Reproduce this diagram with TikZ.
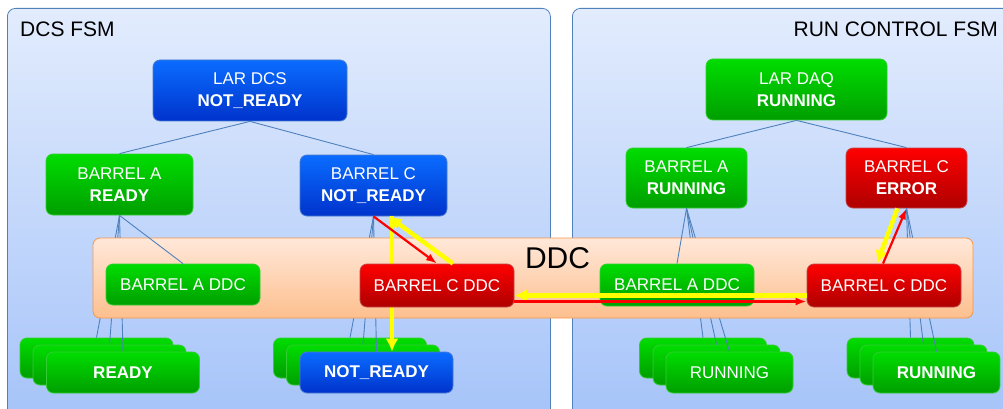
\documentclass[tikz,border=0pt]{standalone}
\usepackage{fontspec}
\setmainfont{Liberation Sans}
\usetikzlibrary{arrows.meta, positioning}

\definecolor{panelTop}{HTML}{E2ECFD}
\definecolor{panelBot}{HTML}{A5C3F9}
\definecolor{panelLine}{HTML}{4F81BD}
\definecolor{ddcTop}{HTML}{FFE8D9}
\definecolor{ddcBot}{HTML}{FDBF8E}
\definecolor{ddcLine}{HTML}{F79646}
\definecolor{blueTop}{HTML}{0A6CFF}
\definecolor{blueBot}{HTML}{0033CC}
\definecolor{blueLine}{HTML}{4A7BD0}
\definecolor{greenTop}{HTML}{00DD00}
\definecolor{greenBot}{HTML}{009E00}
\definecolor{greenLine}{HTML}{33CC33}
\definecolor{redTop}{HTML}{FF0000}
\definecolor{redBot}{HTML}{AE0000}
\definecolor{redLine}{HTML}{C04848}
\definecolor{treeLine}{HTML}{4F81BD}
\definecolor{flowYellow}{HTML}{FFFF00}
\definecolor{flowRed}{HTML}{FF0000}

\begin{document}
\begin{tikzpicture}[x=1pt, y=-1pt,
            panel/.style={rectangle, rounded corners=8pt, draw=panelLine, line width=0.8pt, top color=panelTop, bottom color=panelBot, anchor=north west},
            title/.style={font=\fontsize{21}{25}\selectfont, inner sep=0pt},
            state/.style={rectangle, rounded corners=7pt, line width=0.8pt, align=center, text=white, inner sep=0pt, font=\fontsize{17}{22}\selectfont},
            bluestate/.style={state, draw=blueLine, top color=blueTop, bottom color=blueBot},
            greenstate/.style={state, draw=greenLine, top color=greenTop, bottom color=greenBot},
            redstate/.style={state, draw=redLine, top color=redTop, bottom color=redBot},
            ddcbox/.style={rectangle, rounded corners=7pt, draw=ddcLine, line width=0.8pt, top color=ddcTop, bottom color=ddcBot},
            tree/.style={draw=treeLine, line width=0.9pt},
            yellow_flow/.style={-{Latex[length=13pt, width=13pt]}, flowYellow, line width=4.5pt},
            red_flow/.style={-{Latex[length=11pt, width=8pt]}, flowRed, line width=2.2pt}
        ]
            \useasboundingbox (0,0) rectangle (1003,409);

% Panels
            \node[panel, minimum width=543pt, minimum height=415pt] (dcspanel) at (7,8) {};
            \node[panel, minimum width=445pt, minimum height=415pt] (rcpanel) at (572,8) {};
            \node[title, anchor=base west] (dcstitle) at (20,37) {DCS FSM};
            \node[title, anchor=base east] (rctitle) at (998,37) {RUN CONTROL FSM};

% DCS tree
            \node[bluestate, minimum width=194pt, minimum height=61pt] (lardcs) at (250,90.5) {LAR DCS\\\textbf{NOT\_READY}};
            \node[greenstate, minimum width=147pt, minimum height=61pt] (barAdcs) at (119.5,184.5) {BARREL A\\\textbf{READY}};
            \node[bluestate, minimum width=147pt, minimum height=61pt] (barCdcs) at (373.5,185.5) {BARREL C\\\textbf{NOT\_READY}};

% Run control tree
            \node[greenstate, minimum width=181pt, minimum height=61pt] (lardaq) at (796.5,89.5) {LAR DAQ\\\textbf{RUNNING}};
            \node[greenstate, minimum width=121pt, minimum height=60pt] (barArc) at (686.5,178) {BARREL A\\\textbf{RUNNING}};
            \node[redstate, minimum width=121pt, minimum height=60pt] (barCrc) at (906.5,178) {BARREL C\\\textbf{ERROR}};

% Leaf stacks
            \node[greenstate, minimum width=153pt, minimum height=40pt] (rdyA1) at (96.5,358) {};
            \node[greenstate, minimum width=153pt, minimum height=40pt] (rdyA2) at (109.5,365) {};
            \node[greenstate, minimum width=153pt, minimum height=41pt] (rdyA3) at (123,372.5) {\textbf{READY}};
            \node[greenstate, minimum width=153pt, minimum height=40pt] (nrdyC1) at (350,358) {};
            \node[greenstate, minimum width=153pt, minimum height=40pt] (nrdyC2) at (363,365) {};
            \node[bluestate, minimum width=153pt, minimum height=41pt] (nrdyC3) at (376.5,372.5) {\textbf{NOT\_READY}};
            \node[greenstate, minimum width=127pt, minimum height=40pt] (runA1) at (703,358) {};
            \node[greenstate, minimum width=127pt, minimum height=40pt] (runA2) at (716.5,365) {};
            \node[greenstate, minimum width=127pt, minimum height=41pt] (runA3) at (729.5,372.5) {RUNNING};
            \node[greenstate, minimum width=127pt, minimum height=40pt] (runC1) at (910.5,358) {};
            \node[greenstate, minimum width=127pt, minimum height=40pt] (runC2) at (923.5,365) {};
            \node[greenstate, minimum width=127pt, minimum height=41pt] (runC3) at (936.5,372.5) {\textbf{RUNNING}};

% Tree lines
            \draw[tree] (lardcs.south) -- (barAdcs.north);
            \draw[tree] (lardcs.south) -- (barCdcs.north);
            \draw[tree] (lardaq.south) -- (barArc.north);
            \draw[tree] (lardaq.south) -- (barCrc.north);
            \foreach \leaf in {rdyA1, rdyA2, rdyA3} \draw[tree] (barAdcs.south) -- (\leaf.north);
            \foreach \leaf in {nrdyC1, nrdyC2, nrdyC3} \draw[tree] (barCdcs.south) -- (\leaf.north);
            \foreach \leaf in {runA1, runA2, runA3} \draw[tree] (barArc.south) -- (\leaf.north);
            \foreach \leaf in {runC1, runC2, runC3} \draw[tree] (barCrc.south) -- (\leaf.north);

% DDC layer
            \node[ddcbox, minimum width=880pt, minimum height=80pt] (ddc) at (533,278) {};
            \node[inner sep=0pt, font=\fontsize{30}{36}\selectfont] (ddclabel) at (557.5,258) {DDC};
            \draw[yellow_flow] ([xshift=18.5pt]barCdcs.south) -- ([xshift=18.5pt]barCdcs.south |- nrdyC3.north);

            \node[greenstate, minimum width=154pt, minimum height=41pt] (ddcAdcs) at (183,284.5) {BARREL A DDC};
            \node[redstate, minimum width=154pt, minimum height=43pt] (ddcCdcs) at (437,285.5) {BARREL C DDC};
            \node[greenstate, minimum width=154pt, minimum height=42pt] (ddcArc) at (677,285) {BARREL A DDC};
            \node[redstate, minimum width=154pt, minimum height=43pt] (ddcCrc) at (884,285.5) {BARREL C DDC};

            \draw[tree] (barAdcs.south) -- (ddcAdcs.north);
            \draw[tree] (barArc.south) -- (ddcArc.north);

% Command and state flow
            \draw[red_flow] (barCdcs.south) -- (ddcCdcs.north);
            \draw[yellow_flow] ([xshift=16pt]ddcCdcs.north) -- ([xshift=15pt]barCdcs.south);
            \draw[yellow_flow] ([yshift=-10pt]ddcCrc.west) -- ([yshift=-10pt]ddcCdcs.east);
            \draw[red_flow] ([yshift=-16pt]ddcCdcs.east) -- ([yshift=-16pt]ddcCrc.west);
            \draw[yellow_flow] ([xshift=-9pt]barCrc.south) -- ([xshift=-7pt]ddcCrc.north);
            \draw[red_flow] ([xshift=-1pt]ddcCrc.north) -- (barCrc.south);

        \end{tikzpicture}
\end{document}
